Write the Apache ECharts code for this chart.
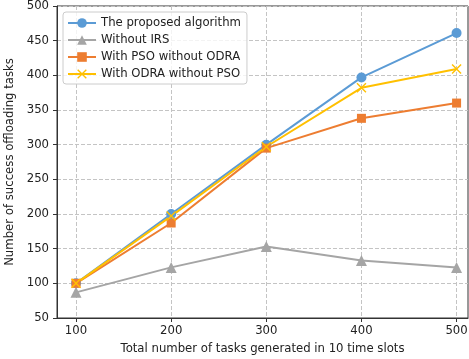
<!DOCTYPE html>
<html>
<head>
<meta charset="utf-8">
<script src="https://cdn.jsdelivr.net/npm/echarts@6/dist/echarts.min.js"></script>
<style>html,body{margin:0;padding:0;background:#fff}#c{width:469px;height:359px}</style>
</head>
<body>
<div id="c"></div>
<script>
const categories = [100, 200, 300, 400, 500];
const proposed = [100, 200, 300, 397, 461];
const withoutIRS = [87, 123, 153, 133, 123];
const psoNoOdra = [100, 187, 295, 338, 360];
const odraNoPso = [100, 197, 297, 382, 409];
const yTicks = [50, 100, 150, 200, 250, 300, 350, 400, 450, 500];
const names = ['The proposed algorithm', 'Without IRS', 'With PSO without ODRA', 'With ODRA without PSO'];

const font = 'DejaVu Sans';
const fs = 11.7;
const xPath = 'path://M0,1L1,0L5,4L9,0L10,1L6,5L10,9L9,10L5,6L1,10L0,9L4,5Z';
function pairs(v) { return categories.map((c, i) => [c, v[i]]); }
function mk(name, data, color, symbol, size) {
  return {
    name: name, type: 'line', data: pairs(data),
    symbol: symbol, symbolSize: size, showSymbol: true,
    lineStyle: { color: color, width: 2 },
    itemStyle: { color: color },
    emphasis: { disabled: true },
    animation: false
  };
}
const chart = echarts.init(document.getElementById('c'));
chart.setOption({
  animation: false,
  backgroundColor: '#fff',
  textStyle: { fontFamily: font },
  grid: { left: 57, right: 1, top: 6, bottom: 41, outerBoundsMode: 'none', containLabel: false,
    show: true, borderColor: '#333', borderWidth: 1, backgroundColor: 'transparent' },
  legend: {
    orient: 'vertical', left: 63, top: 12,
    data: names,
    itemWidth: 28, itemHeight: 12, itemGap: 5,
    padding: [5, 6, 4, 4],
    backgroundColor: 'rgba(255,255,255,0.8)',
    borderColor: '#cccccc', borderWidth: 1, borderRadius: 3,
    textStyle: { fontFamily: font, fontSize: fs, color: '#222' },
    selectedMode: false
  },
  xAxis: {
    type: 'value', min: 80, max: 512,
    name: 'Total number of tasks generated in 10 time slots',
    nameLocation: 'middle', nameGap: 25,
    nameTextStyle: { fontFamily: font, fontSize: fs, color: '#222' },
    axisLine: { show: true, lineStyle: { color: '#333', width: 1 } },
    axisTick: { show: true, inside: false, length: 4, lineStyle: { color: '#333' }, customValues: categories },
    axisLabel: { fontFamily: font, fontSize: fs, color: '#222', margin: 7, customValues: categories },
    splitLine: { show: true, customValues: categories, lineStyle: { color: '#c4c4c4', width: 1, type: [4, 2] } }
  },
  yAxis: {
    type: 'value', min: 50, max: 500, interval: 50,
    name: 'Number of success offloading tasks',
    nameLocation: 'middle', nameGap: 37, nameRotate: 90,
    nameTextStyle: { fontFamily: font, fontSize: fs, color: '#222' },
    axisLine: { show: true, lineStyle: { color: '#333', width: 1 } },
    axisTick: { show: true, inside: false, length: 4, lineStyle: { color: '#333' } },
    axisLabel: { fontFamily: font, fontSize: fs, color: '#222', margin: 8,
      formatter: function (v) { return yTicks.indexOf(v) >= 0 ? String(v) : ''; } },
    splitLine: { show: true, lineStyle: { color: '#c4c4c4', width: 1, type: [4, 2] } }
  },
  series: [
    mk(names[0], proposed, '#5B9BD5', 'circle', 10),
    mk(names[1], withoutIRS, '#A5A5A5', 'triangle', 11),
    mk(names[2], psoNoOdra, '#ED7D31', 'rect', 9),
    mk(names[3], odraNoPso, '#FFC000', xPath, 10)
  ]
});
</script>
</body>
</html>
